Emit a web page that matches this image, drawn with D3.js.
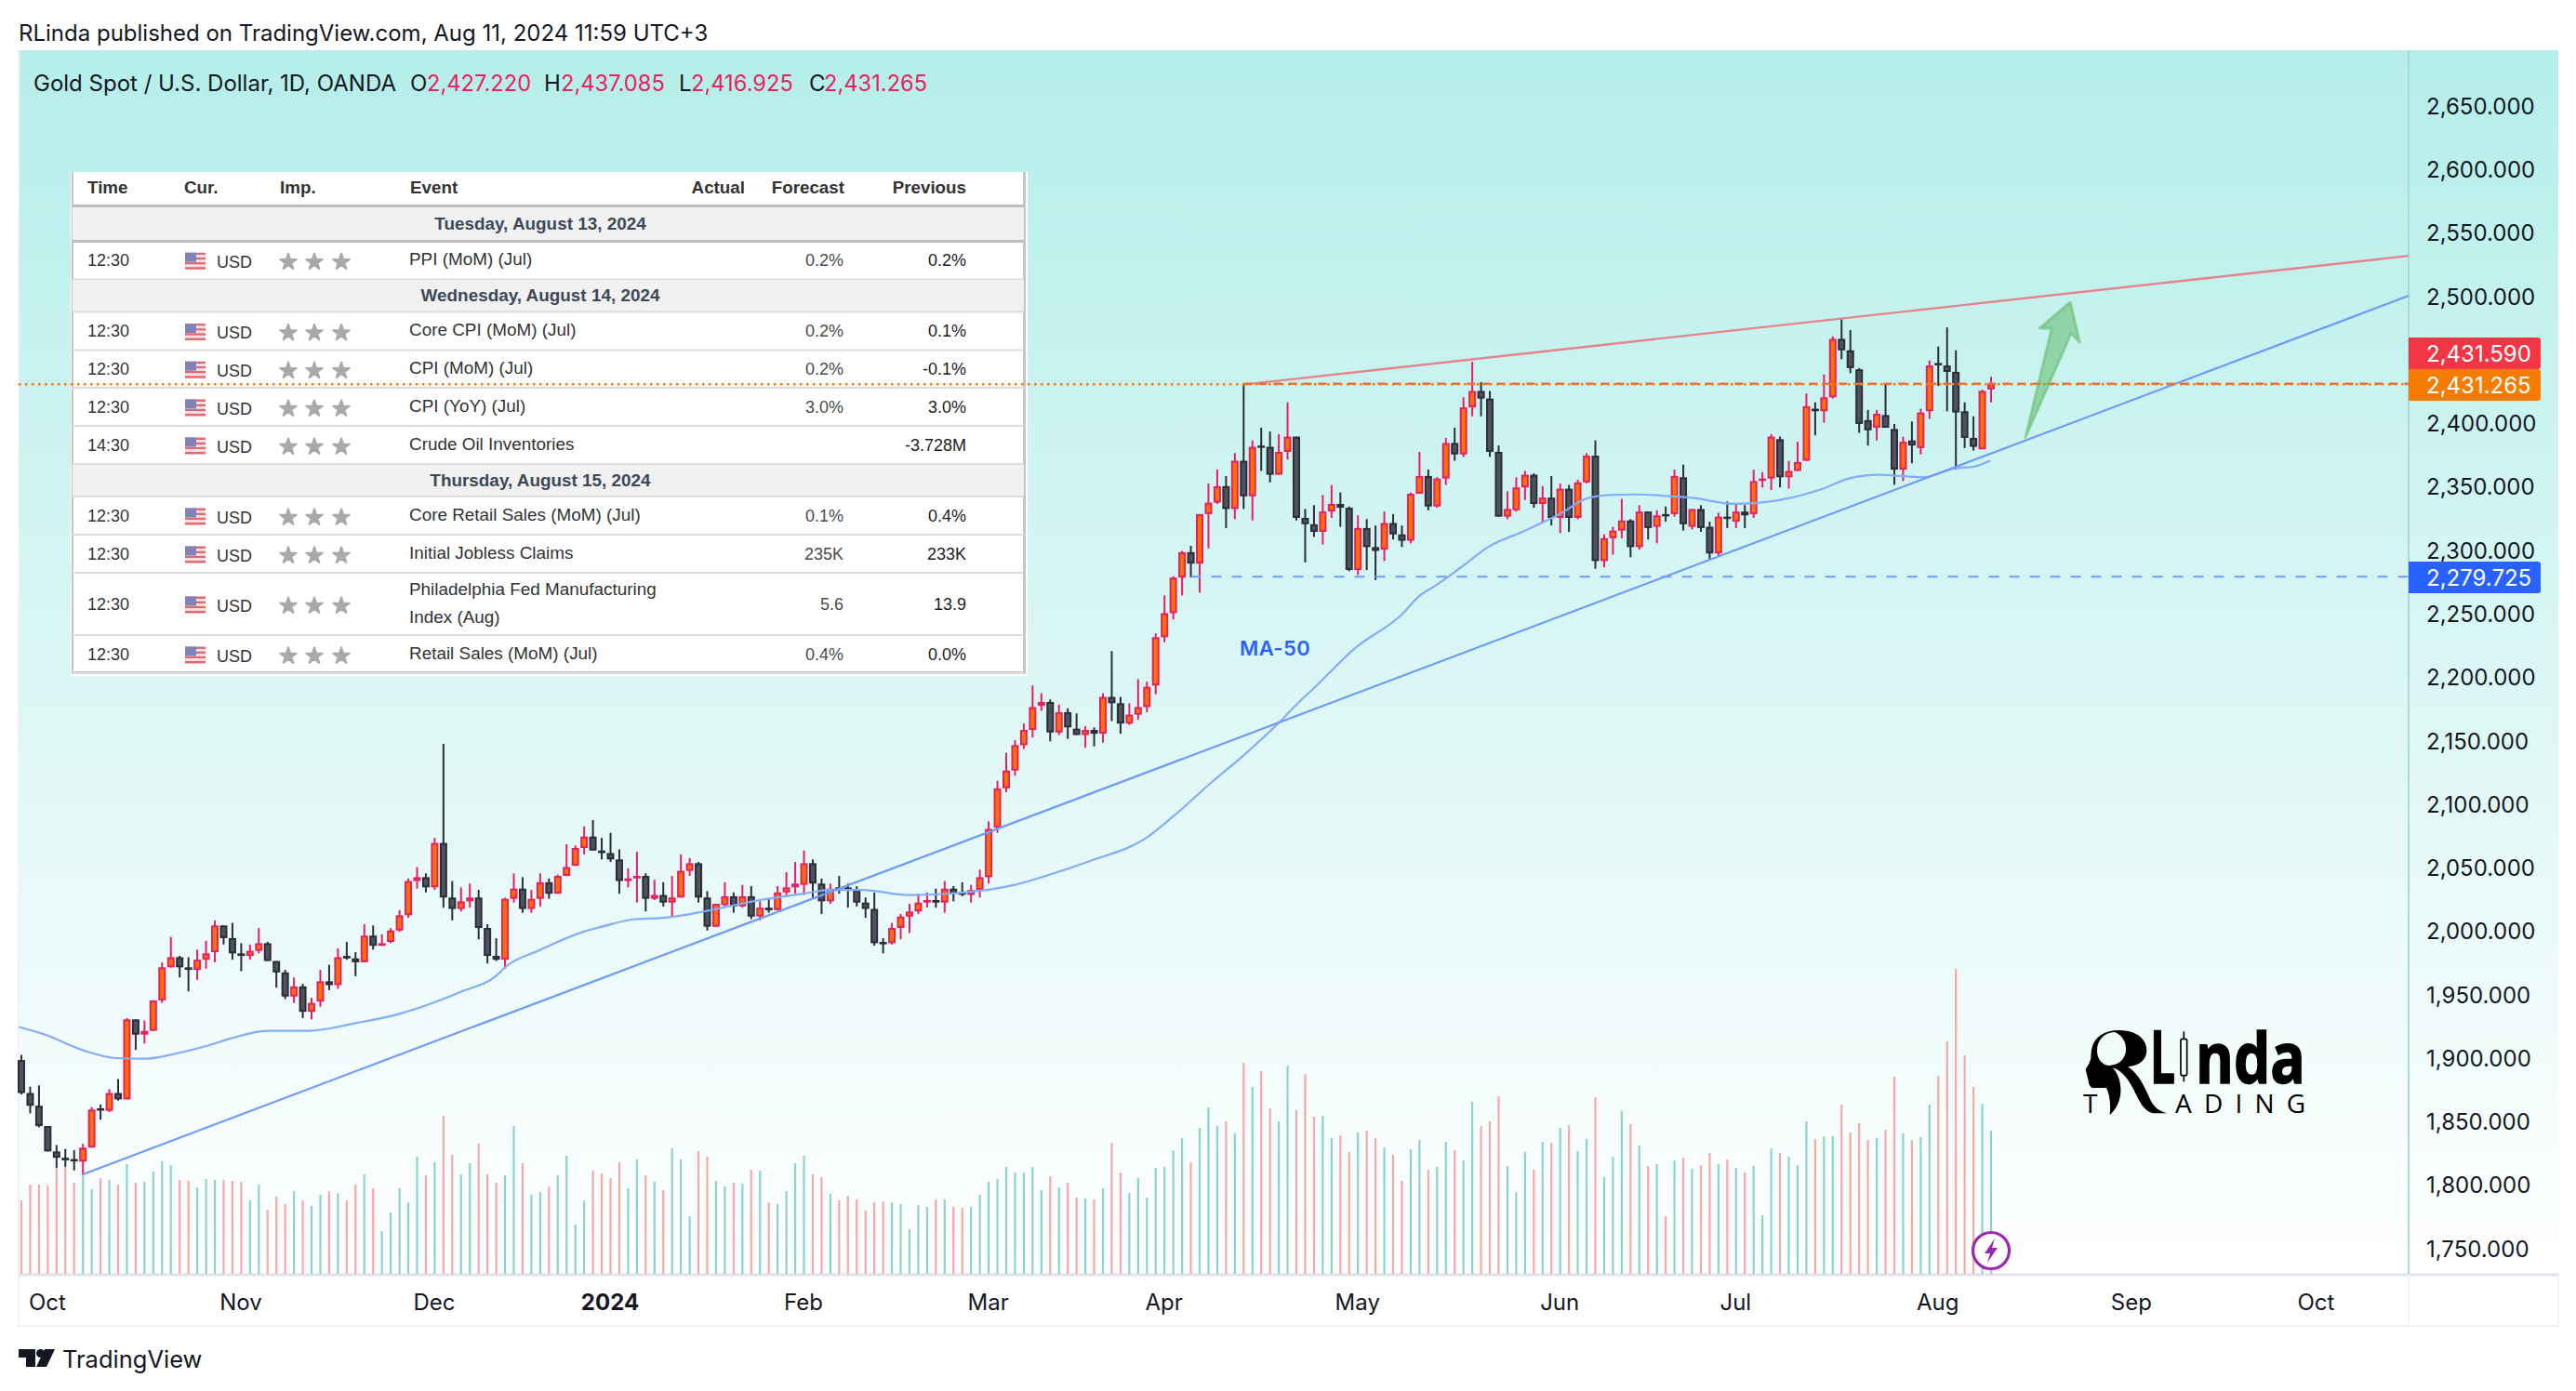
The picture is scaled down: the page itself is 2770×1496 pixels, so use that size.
<!DOCTYPE html>
<html>
<head>
<meta charset="utf-8">
<script src="https://cdn.jsdelivr.net/npm/d3@7"></script>
<style>
  html, body { margin: 0; padding: 0; background: #fff; }
  svg { display: block; }
</style>
</head>
<body>
<div id="chart"></div>
<script>
// daily candles, first bar is end of Sep 2023
var opens = [
  1899,1873,1863,1847,1827,1822,1821,1819,1830,1861,
  1859,1873,1868,1931,1919,1922,1946,1972,1980,1972,
  1970,1978,1984,2005,1995,1983,1981,1985,1991,1977,
  1968,1949,1957,1937,1945,1961,1958,1981,1979,1976,
  1997,1989,1992,2001,2013,2040,2043,2035,2070,2027,
  2018,2024,2027,2003,1981,1978,2026,2034,2018,2026,
  2039,2030,2044,2052,2066,2075,2064,2062,2057,2040,
  2042,2044,2026,2029,2023,2027,2048,2054,2027,2004,
  2021,2028,2020,2028,2012,2019,2017,2031,2035,2037,
  2054,2038,2024,2035,2035,2033,2023,2018,1992,1991,
  2003,2012,2016,2023,2025,2023,2034,2031,2029,2033,
  2043,2082,2113,2127,2147,2159,2178,2181,2157,2173,
  2160,2155,2159,2156,2185,2180,2164,2171,2177,2194,
  2232,2251,2279,2299,2290,2329,2338,2351,2333,2371,
  2343,2383,2382,2360,2378,2390,2326,2321,2315,2331,
  2337,2334,2285,2318,2303,2301,2322,2313,2308,2345,
  2359,2335,2357,2385,2376,2413,2426,2420,2378,2327,
  2332,2350,2360,2337,2342,2326,2349,2326,2354,2375,
  2292,2310,2316,2324,2303,2331,2319,2329,2329,2358,
  2319,2333,2319,2298,2327,2323,2331,2329,2356,2357,
  2388,2358,2363,2371,2412,2410,2421,2467,2458,2443,
  2403,2397,2407,2396,2364,2387,2381,2410,2448,2446,
  2441,2410,2389,2380,2427.22
];
var highs = [
  1903,1878,1879,1847,1832,1829,1828,1833,1862,1864,
  1876,1884,1932,1931,1930,1946,1976,1996,1981,1980,
  1986,1993,2009,2005,2007,1991,1990,2003,1992,1977,
  1970,1964,1959,1948,1970,1974,1987,1992,1984,2006,
  2005,1998,2003,2017,2042,2051,2046,2074,2148,2040,
  2035,2038,2033,2006,1995,2027,2046,2043,2033,2046,
  2042,2045,2069,2068,2083,2088,2074,2078,2065,2050,
  2063,2046,2041,2039,2044,2061,2058,2055,2032,2022,
  2039,2031,2037,2036,2024,2026,2036,2047,2055,2064,
  2057,2042,2038,2044,2038,2036,2027,2031,1995,2007,
  2014,2022,2030,2031,2034,2040,2036,2039,2037,2049,
  2087,2119,2141,2151,2164,2194,2188,2183,2179,2176,
  2172,2162,2161,2188,2221,2185,2180,2199,2197,2235,
  2265,2280,2300,2304,2329,2353,2364,2359,2377,2431,
  2387,2397,2394,2392,2417,2390,2333,2336,2344,2352,
  2346,2335,2328,2325,2320,2331,2329,2320,2346,2378,
  2364,2358,2389,2397,2421,2449,2433,2426,2383,2347,
  2358,2363,2361,2351,2359,2353,2352,2356,2377,2387,
  2313,2319,2341,2325,2336,2331,2332,2335,2364,2368,
  2333,2336,2323,2330,2339,2337,2336,2364,2362,2392,
  2390,2371,2386,2424,2417,2439,2469,2483,2474,2444,
  2411,2411,2431,2400,2390,2402,2412,2450,2461,2476,
  2458,2417,2406,2427,2437.085
];
var lows = [
  1872,1857,1846,1827,1814,1815,1812,1809,1830,1852,
  1858,1867,1868,1907,1912,1922,1944,1972,1964,1953,
  1962,1971,1976,1990,1978,1969,1978,1983,1977,1956,
  1947,1944,1932,1931,1941,1954,1955,1978,1965,1976,
  1986,1989,1991,2000,2011,2034,2031,2033,2019,2009,
  2016,2019,1994,1975,1977,1971,2023,2015,2015,2020,
  2026,2030,2044,2052,2061,2064,2057,2055,2030,2035,
  2023,2016,2025,2020,2012,2027,2044,2023,2001,2004,
  2020,2015,2019,2010,2009,2015,2017,2028,2030,2029,
  2027,2014,2022,2030,2019,2020,2011,1989,1983,1990,
  1994,1999,2014,2019,2019,2015,2024,2028,2023,2027,
  2038,2078,2110,2123,2144,2153,2174,2150,2155,2152,
  2155,2145,2146,2149,2166,2156,2163,2167,2173,2187,
  2228,2246,2265,2279,2267,2302,2337,2318,2325,2333,
  2324,2363,2354,2360,2372,2324,2291,2311,2305,2326,
  2319,2284,2281,2285,2277,2292,2309,2303,2306,2345,
  2332,2334,2352,2371,2374,2406,2406,2374,2327,2325,
  2331,2340,2334,2322,2320,2314,2315,2325,2353,2286,
  2287,2297,2310,2295,2301,2309,2306,2323,2327,2316,
  2317,2315,2293,2296,2318,2318,2318,2326,2350,2348,
  2350,2349,2363,2371,2391,2401,2420,2451,2440,2393,
  2383,2387,2397,2352,2355,2369,2376,2404,2430,2410,
  2364,2381,2379,2380,2416.925
];
var closes = [
  1873,1863,1847,1827,1822,1820,1820,1830,1860,1860,
  1873,1868,1931,1919,1922,1946,1972,1980,1972,1970,
  1978,1983,2005,1995,1983,1981,1985,1991,1977,1968,
  1949,1957,1937,1944,1961,1958,1980,1979,1976,1997,
  1989,1991,2001,2013,2040,2043,2035,2070,2027,2018,
  2024,2027,2003,1981,1978,2026,2034,2018,2026,2039,
  2030,2044,2051,2066,2075,2064,2062,2057,2040,2042,
  2044,2026,2029,2023,2027,2048,2054,2027,2004,2022,
  2028,2020,2028,2012,2019,2017,2031,2035,2038,2054,
  2038,2024,2034,2034,2034,2023,2018,1991,1991,2003,
  2012,2016,2023,2025,2023,2034,2030,2030,2033,2043,
  2081,2113,2127,2147,2159,2177,2181,2157,2173,2161,
  2155,2159,2156,2185,2180,2164,2171,2177,2193,2232,
  2251,2279,2299,2290,2329,2338,2351,2333,2371,2343,
  2382,2382,2360,2378,2390,2326,2321,2315,2331,2337,
  2334,2285,2318,2303,2300,2322,2313,2308,2345,2359,
  2335,2357,2385,2376,2413,2426,2420,2378,2327,2333,
  2350,2360,2337,2342,2326,2349,2326,2354,2375,2292,
  2310,2316,2324,2303,2331,2318,2328,2328,2359,2321,
  2333,2318,2298,2327,2326,2331,2328,2355,2357,2390,
  2358,2363,2370,2414,2410,2421,2467,2458,2444,2400,
  2395,2408,2397,2364,2386,2383,2409,2446,2447,2441,
  2409,2389,2382,2426,2431.265
];
var volumes = [
  79,96,96,95,114,117,98,108,91,103,
  101,96,118,98,99,110,121,117,101,100,
  93,102,101,101,100,99,79,96,69,83,
  75,89,79,73,85,89,87,79,96,107,
  92,46,66,92,77,126,106,120,170,128,
  107,119,140,107,98,106,159,119,85,88,
  94,106,127,53,79,111,108,103,120,92,
  123,106,99,90,135,123,62,132,126,100,
  94,98,97,112,111,77,75,89,119,127,
  107,104,86,79,84,80,68,77,78,77,
  75,48,74,72,80,80,72,71,72,85,
  99,102,115,109,109,115,90,105,93,98,
  82,81,80,92,141,109,87,103,82,114,
  115,133,146,120,157,179,159,164,151,227,
  201,218,178,164,224,176,215,169,170,146,
  149,131,152,154,146,136,128,100,134,144,
  112,115,142,133,122,185,159,164,191,116,
  88,131,112,142,141,157,160,132,145,190,
  104,126,175,161,138,116,118,62,122,125,
  113,117,130,118,123,114,109,116,63,135,
  130,126,117,164,145,148,148,182,152,162,
  144,146,155,212,151,144,147,182,213,250,
  328,235,201,183,154
];

// MA-50 read at bar positions along the curve
var maIdx = [-0.3,2.7,6.9,10.8,14,17.5,21,23.8,28,32.6,38,42.8,49.9,54.1,55,58.9,63.9,66,69.8,73,77.6,84,88.9,92,95.6,100.9,108.6,113.2,117.4,121.6,127.8,131,135.4,139,142.9,145.6,147,151.7,157,158.9,161,163.7,166.8,171,175.2,177.9,180.6,183.6,187.7,189.8,194.8,199.9,204.9,207.8,211.2,216.2,220,222,223.9];
var maVal = [1925,1919,1907,1900.5,1900,1904,1910,1916,1922,1922,1928,1935,1952.5,1966,1972,1985.4,2000,2004,2010,2011,2016,2025,2030,2033,2033,2029,2032,2037.4,2046,2056,2073.4,2091,2118,2139,2164,2183,2192,2223.5,2250,2264,2273.5,2287,2303,2316,2330,2341,2344,2344.5,2343,2342,2337,2340,2349,2357,2360,2358,2365,2366.3,2371];

// drawn lines and the arrow, as bar index / price
var supportIdx = [7, 271.5], supportVal = [1809, 2501];
var resistIdx = [139, 271.5], resistVal = [2431, 2532.4];
var arrowIdx = [227.9, 230.9, 229.5, 233, 234.1, 233.1];
var arrowVal = [2389.2, 2475.4, 2475.2, 2495.9, 2464.2, 2471];

// 2,450 sits under the price labels in the reference, so it is left out
var priceTicks = [2650,2600,2550,2500,2400,2350,2300,2250,2200,2150,2100,2050,2000,1950,1900,1850,1800,1750];
var monthIdx = [3,25,47,67,89,110,130,152,175,195,218,240,261];
var monthLabels = ["Oct","Nov","Dec","2024","Feb","Mar","Apr","May","Jun","Jul","Aug","Sep","Oct"];

var lastPrice = 2431.265, resistPrice = 2431.59, supportPrice = 2279.725;

// calendar table
var tableHead = ["Time","Cur.","Imp.","Event","Actual","Forecast","Previous"];
var tableDays = ["Tuesday, August 13, 2024","Wednesday, August 14, 2024","Thursday, August 15, 2024"];
var eventDays = [0,1,1,1,1,2,2,2,2];
var eventTimes = ["12:30","12:30","12:30","12:30","14:30","12:30","12:30","12:30","12:30"];
var eventNames = ["PPI (MoM) (Jul)","Core CPI (MoM) (Jul)","CPI (MoM) (Jul)","CPI (YoY) (Jul)","Crude Oil Inventories","Core Retail Sales (MoM) (Jul)","Initial Jobless Claims","Philadelphia Fed Manufacturing|Index (Aug)","Retail Sales (MoM) (Jul)"];
var eventForecast = ["0.2%","0.2%","0.2%","3.0%","","0.1%","235K","5.6","0.4%"];
var eventPrevious = ["0.2%","0.1%","-0.1%","3.0%","-3.728M","0.4%","233K","13.9","0.0%"];

var width = 2770, height = 1496;
var plotLeft = 20, plotRight = 2590, plotTop = 54, plotBottom = 1370, frameRight = 2751, frameBottom = 1426;
var uiFont = "Inter, Roboto, sans-serif";
var pink = "#e91e63", orange = "#f57c00", dark = "#2a2e39", darkFill = "#50535e";

var x = d3.scaleLinear().domain([0, 224]).range([23, 2141]);
var y = d3.scaleLinear().domain([2500, 1750]).range([319.4, 1343.5]);
var yVol = d3.scaleLinear().domain([0, 329]).range([plotBottom, 1041]);

var svg = d3.select("#chart").append("svg")
    .attr("width", width)
    .attr("height", height);

var defs = svg.append("defs");
var grad = defs.append("linearGradient")
    .attr("id", "bg")
    .attr("x1", 0).attr("y1", 0).attr("x2", 0).attr("y2", 1);
grad.append("stop").attr("offset", "0%").attr("stop-color", "#b5eeea");
grad.append("stop").attr("offset", "100%").attr("stop-color", "#ffffff");

// frame and background
svg.append("rect")
    .attr("x", plotLeft).attr("y", plotTop)
    .attr("width", frameRight - plotLeft).attr("height", plotBottom - plotTop)
    .style("fill", "url(#bg)");
svg.append("path")
    .attr("d", "M" + plotLeft + "," + plotTop + "V" + frameBottom + "H" + frameRight + "V" + plotBottom)
    .style("fill", "none").style("stroke", "#f0f3fa").style("stroke-width", 2);
svg.append("line")
    .attr("x1", plotLeft).attr("x2", frameRight).attr("y1", plotBottom + 1).attr("y2", plotBottom + 1)
    .style("stroke", "#e0e3eb").style("stroke-width", 3);
svg.append("line")
    .attr("x1", plotRight).attr("x2", plotRight).attr("y1", plotTop).attr("y2", plotBottom)
    .style("stroke", "#aed8d3").style("stroke-width", 2);
svg.append("line")
    .attr("x1", plotRight).attr("x2", plotRight).attr("y1", plotBottom + 2).attr("y2", frameBottom)
    .style("stroke", "#f0f3fa").style("stroke-width", 2);

// header texts
svg.append("text")
    .attr("x", 20).attr("y", 44)
    .style("font-family", uiFont).style("font-size", "24px").style("fill", "#131722")
    .text("RLinda published on TradingView.com, Aug 11, 2024 11:59 UTC+3");

var legend = svg.append("g").style("font-family", uiFont).style("font-size", "24px");
legend.append("text").attr("x", 36).attr("y", 98).style("fill", "#131722").text("Gold Spot / U.S. Dollar, 1D, OANDA");
var ohlcNames = ["O","H","L","C"], ohlcValues = ["2,427.220","2,437.085","2,416.925","2,431.265"];
var ohlcNameX = [441,585,730,870], ohlcValX = [459,603,743,886];
ohlcNames.forEach(function(n, i) {
  legend.append("text").attr("x", ohlcNameX[i]).attr("y", 98).style("fill", "#131722").text(n);
  legend.append("text").attr("x", ohlcValX[i]).attr("y", 98).style("fill", pink).style("font-size", "23.7px").text(ohlcValues[i]);
});

// volume bars
var bars = d3.range(closes.length);
svg.append("g").selectAll("rect")
    .data(bars)
    .enter()
    .append("rect")
    .attr("x", function(d) { return x(d) - 1.1; })
    .attr("width", 2.2)
    .attr("y", function(d) { return yVol(volumes[d]); })
    .attr("height", function(d) { return plotBottom - yVol(volumes[d]); })
    .style("fill", function(d) { return closes[d] >= opens[d] ? "#8dd3c8" : "#f5a9a9"; });

// table
var table = svg.append("g").style("font-family", "'Liberation Sans', Arial, sans-serif").style("font-size", "18px");
var rowEdges = [222,259,300.5,335.5,376.5,417,458,499,534,575,616,683,724];
var left = 78, right = 1101;

table.append("rect").attr("x", 76).attr("y", 185).attr("width", 1029).attr("height", 542).style("fill", "#fff");
table.append("rect").attr("x", left - 1).attr("y", 185).attr("width", 2).attr("height", 539).style("fill", "#c4c4c4");
table.append("rect").attr("x", right - 1).attr("y", 185).attr("width", 3).attr("height", 539).style("fill", "#c4c4c4");
table.append("rect").attr("x", left - 1).attr("y", 722).attr("width", right - left + 3).attr("height", 3).style("fill", "#c4c4c4");

var headX = [94,198,301,441,801,908,1039];
tableHead.forEach(function(h, i) {
  table.append("text")
      .attr("x", headX[i]).attr("y", 208)
      .attr("text-anchor", i > 3 ? "end" : "start")
      .style("font-size", "18.8px").style("font-weight", "bold").style("fill", "#333")
      .text(h);
});
table.append("rect").attr("x", left).attr("y", 220).attr("width", right - left).attr("height", 4).style("fill", "#bdbdbd");

var rowIdx = 0, prevDay = -1;
eventNames.forEach(function(name, e) {
  if (eventDays[e] !== prevDay) {
    prevDay = eventDays[e];
    table.append("rect")
        .attr("x", left).attr("y", rowEdges[rowIdx] + 1)
        .attr("width", right - left).attr("height", rowEdges[rowIdx + 1] - rowEdges[rowIdx] - 1)
        .style("fill", "#f1f1f1");
    table.append("text")
        .attr("x", 581).attr("y", (rowEdges[rowIdx] + rowEdges[rowIdx + 1]) / 2 + 6)
        .attr("text-anchor", "middle")
        .style("font-size", "18.9px").style("font-weight", "bold").style("fill", "#3c4858")
        .text(tableDays[prevDay]);
    table.append("rect")
        .attr("x", left).attr("y", rowEdges[rowIdx + 1] - 1)
        .attr("width", right - left).attr("height", prevDay === 0 ? 3 : 2)
        .style("fill", prevDay === 0 ? "#bdbdbd" : "#dcdcdc");
    rowIdx++;
  }
  var mid = (rowEdges[rowIdx] + rowEdges[rowIdx + 1]) / 2;
  table.append("text").attr("x", 94).attr("y", mid + 6).style("fill", "#333").text(eventTimes[e]);

  // little flag
  var flag = table.append("g").attr("transform", "translate(199," + (mid - 8) + ")");
  d3.range(7).forEach(function(s) {
    flag.append("rect").attr("x", 0).attr("y", s * 18 / 7).attr("width", 22).attr("height", 18 / 7)
        .style("fill", s % 2 ? "#f6e3e3" : "#e2696f");
  });
  flag.append("rect").attr("width", 12).attr("height", 10).style("fill", "#8083bb");

  table.append("text").attr("x", 233).attr("y", mid + 8).style("fill", "#333").text("USD");
  [310,338,367].forEach(function(sx) {
    table.append("path")
        .attr("d", d3.symbol().type(d3.symbolStar).size(95)())
        .attr("transform", "translate(" + sx + "," + (mid + 2) + ")")
        .style("fill", "#a9a9a9").style("stroke", "#a9a9a9")
        .style("stroke-width", 2).style("stroke-linejoin", "round");
  });
  var parts = name.split("|");
  parts.forEach(function(p, k) {
    table.append("text")
        .attr("x", 440)
        .attr("y", parts.length > 1 ? (k === 0 ? mid - 10 : mid + 20) : mid + 5)
        .style("font-size", "18.9px").style("fill", "#333").text(p);
  });
  table.append("text").attr("x", 907).attr("y", mid + 6).attr("text-anchor", "end").style("fill", "#4a4a4a").text(eventForecast[e]);
  table.append("text").attr("x", 1039).attr("y", mid + 6).attr("text-anchor", "end").style("fill", "#1c1c1c").text(eventPrevious[e]);
  table.append("rect")
      .attr("x", left).attr("y", rowEdges[rowIdx + 1] - 1)
      .attr("width", right - left).attr("height", 2)
      .style("fill", "#dcdcdc");
  rowIdx++;
});

// candles
var candles = svg.append("g").selectAll("g")
    .data(bars)
    .enter()
    .append("g");
candles.append("line")
    .attr("x1", function(d) { return x(d); })
    .attr("x2", function(d) { return x(d); })
    .attr("y1", function(d) { return y(highs[d]); })
    .attr("y2", function(d) { return y(lows[d]); })
    .style("stroke", function(d) { return closes[d] >= opens[d] ? pink : dark; })
    .style("stroke-width", 2);
candles.append("rect")
    .attr("x", function(d) { return x(d) - 3; })
    .attr("width", 6)
    .attr("y", function(d) { return y(Math.max(opens[d], closes[d])) + 1; })
    .attr("height", function(d) { return Math.max(0.5, Math.abs(y(opens[d]) - y(closes[d])) - 2); })
    .style("fill", function(d) { return closes[d] >= opens[d] ? "#f97300" : darkFill; })
    .style("stroke", function(d) { return closes[d] >= opens[d] ? pink : dark; })
    .style("stroke-width", 2);

var indexLine = d3.line()
    .x(function(d) { return x(d[0]); })
    .y(function(d) { return y(d[1]); });

// MA-50
svg.append("path")
    .attr("d", indexLine.curve(d3.curveMonotoneX)(d3.zip(maIdx, maVal)))
    .style("fill", "none").style("stroke", "#84adf8").style("stroke-width", 2.2);
indexLine.curve(d3.curveLinear);

svg.append("text")
    .attr("x", 1333).attr("y", 705)
    .style("font-family", uiFont).style("font-size", "22px").style("font-weight", 600)
    .style("letter-spacing", "0.4px").style("fill", "#2962ff")
    .text("MA-50");

// trend lines
svg.append("path")
    .attr("d", indexLine(d3.zip(supportIdx, supportVal)))
    .style("fill", "none").style("stroke", "#6d9bf7").style("stroke-width", 2.2);
svg.append("path")
    .attr("d", indexLine(d3.zip(resistIdx, resistVal)))
    .style("fill", "none").style("stroke", "#e4848f").style("stroke-width", 2.4);

// level lines
svg.append("line")
    .attr("x1", x(139)).attr("x2", plotRight).attr("y1", y(resistPrice)).attr("y2", y(resistPrice))
    .style("stroke", "#ef6a4a").style("stroke-width", 2.4).style("stroke-dasharray", "9 7");
svg.append("line")
    .attr("x1", plotLeft).attr("x2", plotRight).attr("y1", y(lastPrice)).attr("y2", y(lastPrice))
    .style("stroke", orange).style("stroke-width", 2.6).style("stroke-dasharray", "2.5 4.5");
svg.append("line")
    .attr("x1", x(133)).attr("x2", plotRight).attr("y1", y(supportPrice)).attr("y2", y(supportPrice))
    .style("stroke", "#6e9cff").style("stroke-width", 2).style("stroke-dasharray", "11 11");

// arrow
svg.append("path")
    .attr("d", indexLine(d3.zip(arrowIdx, arrowVal)) + "Z")
    .style("fill", "#4caf50").style("fill-opacity", 0.45)
    .style("stroke", "#66bb6a").style("stroke-opacity", 0.55).style("stroke-width", 3)
    .style("stroke-linejoin", "round");

// axes
var priceAxis = svg.append("g")
    .attr("transform", "translate(" + plotRight + ",0)")
    .call(d3.axisRight(y).tickValues(priceTicks).tickSize(0).tickPadding(19).tickFormat(d3.format(",.3f")));
priceAxis.select(".domain").remove();
priceAxis.selectAll("text")
    .style("font-family", uiFont).style("font-size", "24px").style("fill", "#131722");

var timeAxis = svg.append("g")
    .attr("transform", "translate(-1," + plotBottom + ")")
    .call(d3.axisBottom(x).tickValues(monthIdx).tickSize(0).tickPadding(22)
      .tickFormat(function(d, i) { return monthLabels[i]; }));
timeAxis.select(".domain").remove();
timeAxis.selectAll("text")
    .style("font-family", uiFont).style("font-size", "24px").style("fill", "#131722")
    .style("font-weight", function(d, i) { return monthLabels[i] === "2024" ? 700 : 400; });

// price labels
var labelPrices = [resistPrice, lastPrice, supportPrice];
var labelColors = ["#f23645", orange, "#2962ff"];
var labelMid = [380, 414, 621];
labelPrices.forEach(function(p, i) {
  svg.append("path")
      .attr("d", "M" + plotRight + "," + (labelMid[i] - 17) + "H2729a3,3 0 0 1 3,3V" + (labelMid[i] + 14) + "a3,3 0 0 1 -3,3H" + plotRight + "Z")
      .style("fill", labelColors[i]);
  svg.append("text")
      .attr("x", 2609).attr("y", labelMid[i] + 8.5)
      .style("font-family", uiFont).style("font-size", "24px").style("fill", "#fff")
      .text(d3.format(",.3f")(p));
});

// lightning badge
var badge = svg.append("g").attr("transform", "translate(" + x(224) + ",1345)");
badge.append("circle").attr("r", 19.5).style("fill", "#fff").style("stroke", "#9c27b0").style("stroke-width", 3.2);
badge.append("path").attr("d", "M4,-13 L-7,3 L-1,3 L-4,13 L7,-3 L1,-3 Z").style("fill", "#9c27b0");

// RLinda logo
var logo = svg.append("g").attr("transform", "translate(2200,1080)");
var head = logo.append("g").attr("transform", "scale(0.3333)");
head.append("path")
    .attr("fill-rule", "evenodd")
    .attr("d", "M150 135 C160 105 190 84 235 84 C290 84 325 110 325 150 C325 180 300 198 265 202 C300 225 320 270 340 315 C355 340 375 348 392 352 L345 352 C315 345 300 310 285 280 C270 250 250 215 215 205 C235 225 245 260 240 295 C235 325 220 345 206 358 C210 320 205 290 195 270 L150 270 C140 265 137 255 137 245 L133 232 L128 210 L140 190 L145 175 C145 160 147 145 150 135 Z M165 150 C165 115 190 90 222 90 C245 100 260 120 258 150 C255 175 240 195 205 198 C185 198 165 180 165 150 Z")
    .style("fill", "#000");
head.append("line").attr("x1", 445).attr("x2", 445).attr("y1", 88).attr("y2", 250).style("stroke", "#000").style("stroke-width", 5);
head.append("rect").attr("x", 435).attr("y", 112).attr("width", 20).attr("height", 118).attr("rx", 6)
    .style("fill", "#f2fcfb").style("stroke", "#000").style("stroke-width", 5);

var logoFont = "'Open Sans', 'Noto Sans', sans-serif";
logo.append("text").attr("x", 112).attr("y", 85)
    .attr("textLength", 27).attr("lengthAdjust", "spacingAndGlyphs")
    .style("font-family", logoFont).style("font-weight", 700).style("font-size", "78px")
    .style("stroke", "#000").style("stroke-width", 1.5).text("L");
logo.append("text").attr("x", 161).attr("y", 85)
    .attr("textLength", 118).attr("lengthAdjust", "spacingAndGlyphs")
    .style("font-family", logoFont).style("font-weight", 700).style("font-size", "76px")
    .style("stroke", "#000").style("stroke-width", 1.5).text("nda");
logo.append("text").attr("x", 40).attr("y", 117)
    .style("font-family", logoFont).style("font-size", "28px").text("T");
logo.append("text").attr("x", 139).attr("y", 117)
    .attr("textLength", 140)
    .style("font-family", logoFont).style("font-size", "28px").text("ADING");

// TradingView footer
var tv = svg.append("g").style("fill", "#131722");
tv.append("path").attr("d", "M20,1451 H38 V1470 H28 V1460 H20 Z");
tv.append("circle").attr("cx", 43.5).attr("cy", 1455.5).attr("r", 4.5);
tv.append("path").attr("d", "M48,1451 H59 L50,1470 H39 Z");
tv.append("text")
    .attr("x", 67).attr("y", 1470.5)
    .style("font-family", uiFont).style("font-size", "25.5px")
    .text("TradingView");
</script>
</body>
</html>
